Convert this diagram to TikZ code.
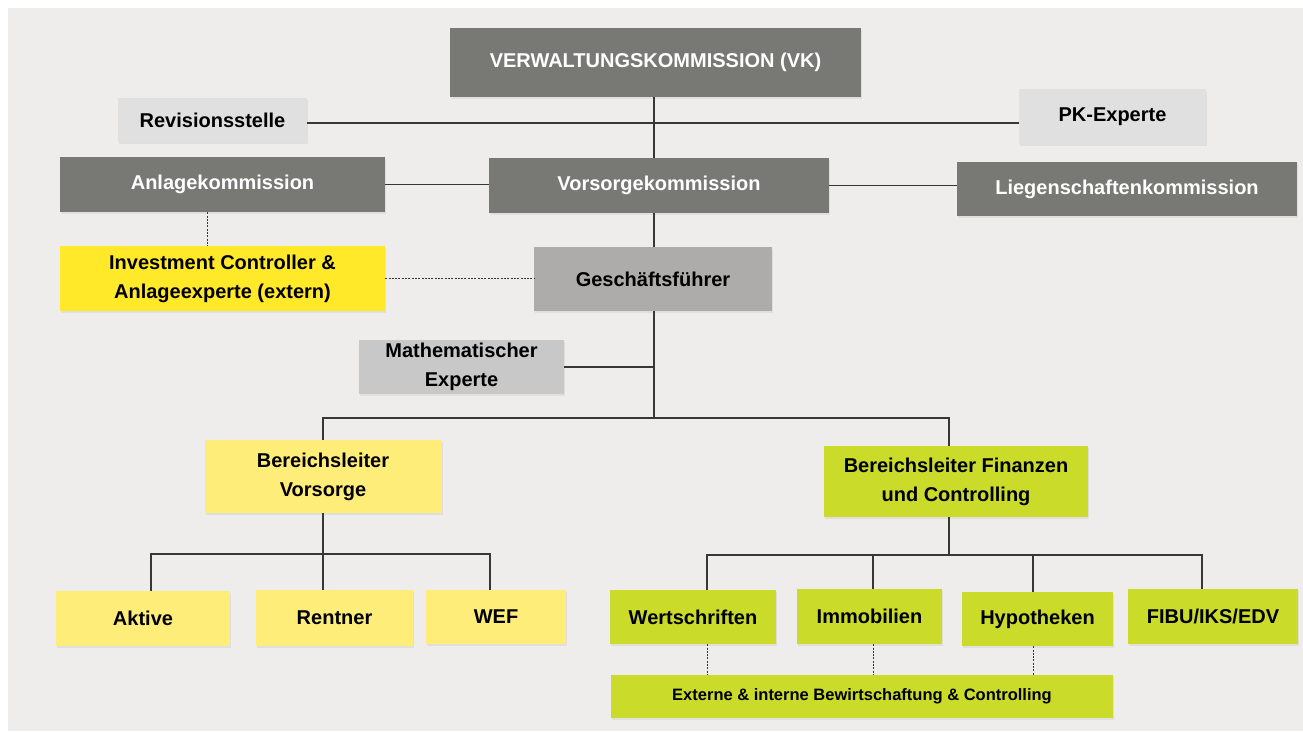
\documentclass[tikz,border=0pt]{standalone}
\usepackage{fontspec}
\setmainfont{Liberation Sans}
\usetikzlibrary{positioning,shadows}
\definecolor{cBg}{RGB}{238,237,235}
\definecolor{cDark}{RGB}{120,120,116}
\definecolor{cLight}{RGB}{224,224,224}
\definecolor{cMid}{RGB}{173,172,170}
\definecolor{cMath}{RGB}{200,200,200}
\definecolor{cYel}{RGB}{255,233,40}
\definecolor{cPale}{RGB}{255,237,122}
\definecolor{cLime}{RGB}{203,219,42}
\definecolor{cLine}{RGB}{55,55,55}

\begin{document}
\begin{tikzpicture}[x=1pt, y=-1pt,
  box/.style={inner sep=0pt, align=center, font=\fontsize{20}{29}\selectfont\bfseries,
    drop shadow={opacity=0.12, shadow xshift=1pt, shadow yshift=-2pt}},
  sz/.style 2 args={minimum width=#1pt, minimum height=#2pt},
  dk/.style={box, fill=cDark, text=white},
  conn/.style={draw=cLine, line width=1.3pt},
  dots/.style={draw=cLine, line width=0.8pt, dash pattern=on 2pt off 1.3pt}]
  \useasboundingbox (0,0) rectangle (1303,731);
  \fill[cBg] (8,8) rectangle (1303,731);

  % board and commissions
  \node[dk, sz={411}{69}] (vk) at (655.5,62.5) {VERWALTUNGSKOMMISSION (VK)};
  \node[box, fill=cLight, sz={189}{44}] (rev) at (212.5,120) {Revisionsstelle};
  \node[box, fill=cLight, sz={187}{55}] (pk) at (1112.5,116.5) {PK-Experte};
  \node[dk, sz={325}{55}] (anl) at (222.5,184.5) {Anlagekommission};
  \node[dk, sz={340}{55}] (vor) at (659,185.5) {Vorsorgekommission};
  \node[dk, sz={340}{54}] (lieg) at (1127,189) {Liegenschaftenkommission};

  % management
  \node[box, fill=cYel, sz={325}{65}] (inv) at (222.5,278.5) {Investment Controller \&\\Anlageexperte (extern)};
  \node[box, fill=cMid, sz={238}{64}] (gf) at (653,279) {Geschäftsführer};
  \node[box, fill=cMath, sz={205}{54}] (math) at (461.5,367) {Mathematischer\\Experte};

  % departments
  \node[box, fill=cPale, sz={237}{73}] (blv) at (323,476.5) {Bereichsleiter\\Vorsorge};
  \node[box, fill=cLime, sz={264}{71}] (blf) at (956,481.5) {Bereichsleiter Finanzen\\und Controlling};

  % units
  \node[box, fill=cPale, sz={174}{55}] (akt) at (143,618.5) {Aktive};
  \node[box, fill=cPale, sz={157}{56}] (ren) at (334.5,618) {Rentner};
  \node[box, fill=cPale, sz={140}{54}] (wef) at (496,617) {WEF};
  \node[box, fill=cLime, sz={166}{54}] (wer) at (693,617) {Wertschriften};
  \node[box, fill=cLime, sz={145}{55}] (imm) at (869.5,616.5) {Immobilien};
  \node[box, fill=cLime, sz={151}{54}] (hyp) at (1037.5,619) {Hypotheken};
  \node[box, fill=cLime, sz={170}{55}] (fibu) at (1213,616.5) {FIBU/IKS/EDV};
  \node[box, fill=cLime, sz={502}{43}, font=\fontsize{16.5}{20}\selectfont\bfseries] (ext) at (862,696.5) {Externe \& interne Bewirtschaftung \& Controlling};

  % main line
  \coordinate (t) at (654,0);
  \coordinate (rl) at (0,123);
  \coordinate (br) at (0,418);
  \draw[conn] (t |- vk.south) -- (t |- vor.north);
  \draw[conn] (t |- vor.south) -- (t |- gf.north);
  \draw[conn] (t |- gf.south) -- (t |- br);
  \draw[conn] (rev.east |- rl) -- (pk.west |- rl);
  \draw[conn] (anl.east) -- (anl.east -| vor.west);
  \draw[conn] (vor.east) -- (vor.east -| lieg.west);
  \draw[conn] (math.east) -- (math.east -| t);
  \draw[conn] (blv.north) |- ([xshift=-7pt]blf.north |- br) -- ([xshift=-7pt]blf.north);

  % dotted links
  \draw[dots] ([xshift=-15.5pt]anl.south) -- ([xshift=-15.5pt]inv.north);
  \draw[dots] (inv.east) -- (inv.east -| gf.west);

  % Vorsorge branch
  \coordinate (vb) at (0,554);
  \draw[conn] (blv.south) -- (blv.south |- vb);
  \draw[conn] ([xshift=8pt]akt.north) |- ([xshift=-6pt]wef.north |- vb) -- ([xshift=-6pt]wef.north);
  \draw[conn] ([xshift=-11.5pt]ren.north) -- ([xshift=-11.5pt]ren.north |- vb);

  % Finanzen branch
  \coordinate (fb) at (0,555);
  \draw[conn] ([xshift=-7pt]blf.south) -- ([xshift=-7pt]blf.south |- fb);
  \draw[conn] ([xshift=14pt]wer.north) |- ([xshift=-11pt]fibu.north |- fb) -- ([xshift=-11pt]fibu.north);
  \foreach \n/\dx in {imm/3.5, hyp/-4.5}
    \draw[conn] ([xshift=\dx pt]\n.north) -- ([xshift=\dx pt]\n.north |- fb);
  \foreach \n/\dx in {wer/14, imm/3.5, hyp/-4.5}
    \draw[dots] ([xshift=\dx pt]\n.south) -- ([xshift=\dx pt]\n.south |- ext.north);
\end{tikzpicture}
\end{document}
